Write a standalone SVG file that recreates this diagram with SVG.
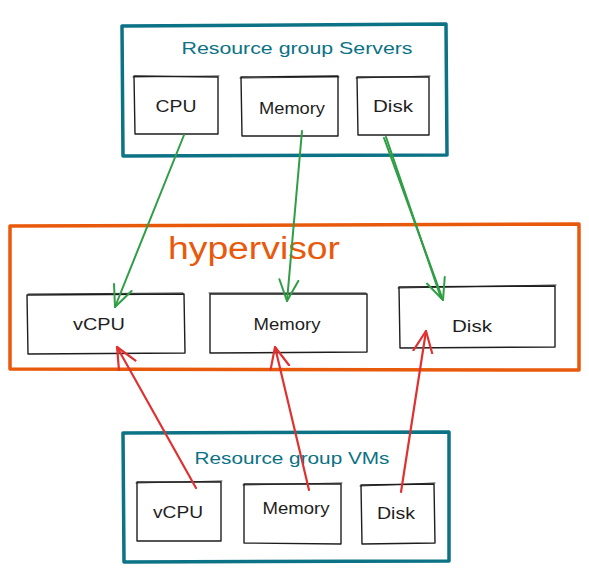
<svg xmlns="http://www.w3.org/2000/svg" width="589" height="571" viewBox="0 0 589 571">
<defs>
<style>
.bg{fill:#ffffff}
.teal{fill:none;stroke:#0c7285;stroke-width:3.5;stroke-linejoin:round;stroke-linecap:round}
.orange{fill:none;stroke:#e8590c;stroke-width:3.5;stroke-linejoin:round;stroke-linecap:round}
.box{fill:#ffffff;stroke:#1e1e1e;stroke-width:1.4;stroke-linejoin:round;stroke-linecap:round}
.box2{fill:none;stroke:#1e1e1e;stroke-width:0.9;stroke-linecap:round}
.lbl{font-family:"Liberation Sans","DejaVu Sans",sans-serif;font-size:17px;fill:#1e1e1e;text-anchor:middle}
.ttl{font-family:"Liberation Sans","DejaVu Sans",sans-serif;font-size:17px;fill:#0c7285;text-anchor:middle}
.hyp{font-family:"Liberation Sans","DejaVu Sans",sans-serif;font-size:31px;fill:#e8590c;text-anchor:start}
.g{fill:none;stroke:#2f9e44;stroke-width:2;stroke-linecap:round}
.r{fill:none;stroke:#e03131;stroke-width:2.2;stroke-linecap:round}
</style>
<marker id="ag" markerUnits="userSpaceOnUse" viewBox="0 0 24 24" markerWidth="24" markerHeight="24" refX="22" refY="12" orient="auto">
<path d="M1,2.5 L22,12 L1,21.5" fill="none" stroke="#2f9e44" stroke-width="2" stroke-linecap="round" stroke-linejoin="round"/>
</marker>
<marker id="ar" markerUnits="userSpaceOnUse" viewBox="0 0 24 24" markerWidth="24" markerHeight="24" refX="22" refY="12" orient="auto">
<path d="M1,2.5 L22,12 L1,21.5" fill="none" stroke="#e03131" stroke-width="2.2" stroke-linecap="round" stroke-linejoin="round"/>
</marker>
</defs>
<rect class="bg" x="0" y="0" width="589" height="571"/>

<g id="servers">
<path class="teal" d="M122,26 L446,24 L447,155 L123,156 Z"/>
<text class="ttl" x="297" y="54" textLength="231" lengthAdjust="spacingAndGlyphs">Resource group Servers</text>
</g>
<g id="servers-cpu">
<path class="box" d="M134,76 L218,77 L218,134 L135,134 Z"/>
<path class="box2" d="M133,77 L219,76"/>
<text class="lbl" x="176" y="112" textLength="41" lengthAdjust="spacingAndGlyphs">CPU</text>
</g>
<g id="servers-memory">
<path class="box" d="M241,77 L338,76 L338,136 L242,136 Z"/>
<path class="box2" d="M240,78 L339,77"/>
<text class="lbl" x="292" y="114" textLength="66" lengthAdjust="spacingAndGlyphs">Memory</text>
</g>
<g id="servers-disk">
<path class="box" d="M357,77 L429,77 L429,135 L358,135 Z"/>
<path class="box2" d="M356,78 L430,76"/>
<text class="lbl" x="393" y="112" textLength="40" lengthAdjust="spacingAndGlyphs">Disk</text>
</g>

<g id="hypervisor">
<path class="orange" d="M10,226 L579,224 L579,370 L10,369 Z"/>
<text class="hyp" x="168" y="259" textLength="172" lengthAdjust="spacingAndGlyphs">hypervisor</text>
</g>
<g id="hv-vcpu">
<path class="box" d="M27,295 L184,294 L185,353 L28,354 Z"/>
<path class="box2" d="M28,294 L183,293"/>
<text class="lbl" x="99" y="330" textLength="52" lengthAdjust="spacingAndGlyphs">vCPU</text>
</g>
<g id="hv-memory">
<path class="box" d="M210,294 L367,294 L367,352 L210,353 Z"/>
<path class="box2" d="M209,293 L366,293"/>
<text class="lbl" x="287" y="330" textLength="67" lengthAdjust="spacingAndGlyphs">Memory</text>
</g>
<g id="hv-disk">
<path class="box" d="M399,287 L555,286 L555,347 L400,348 Z"/>
<path class="box2" d="M398,288 L556,285"/>
<text class="lbl" x="472" y="332" textLength="40" lengthAdjust="spacingAndGlyphs">Disk</text>
</g>

<g id="vms">
<path class="teal" d="M123,433 L449,432 L449,561 L124,562 Z"/>
<text class="ttl" x="292" y="464" textLength="195" lengthAdjust="spacingAndGlyphs">Resource group VMs</text>
</g>
<g id="vms-vcpu">
<path class="box" d="M137,482 L221,482 L221,541 L137,541 Z"/>
<path class="box2" d="M136,483 L222,481"/>
<text class="lbl" x="178" y="518" textLength="50" lengthAdjust="spacingAndGlyphs">vCPU</text>
</g>
<g id="vms-memory">
<path class="box" d="M244,484 L341,484 L341,544 L244,543 Z"/>
<path class="box2" d="M243,485 L342,483"/>
<text class="lbl" x="296" y="514" textLength="67" lengthAdjust="spacingAndGlyphs">Memory</text>
</g>
<g id="vms-disk">
<path class="box" d="M361,485 L434,484 L435,543 L362,544 Z"/>
<path class="box2" d="M360,486 L435,483"/>
<text class="lbl" x="396" y="519" textLength="38" lengthAdjust="spacingAndGlyphs">Disk</text>
</g>

<g id="connectors">
<path class="g" d="M184,135 L115,307" marker-end="url(#ag)"/>
<path class="g" d="M302,131 L287,301" marker-end="url(#ag)"/>
<path class="g" d="M384,138 L443,300" marker-end="url(#ag)"/>
<path class="g" d="M386,137 L441,298" stroke-width="1.2"/>
<path class="r" d="M196,488 L117,347" marker-end="url(#ar)"/>
<path class="r" d="M309,490 L275,347" marker-end="url(#ar)"/>
<path class="r" d="M401,492 L426,331" marker-end="url(#ar)"/>
</g>
</svg>
